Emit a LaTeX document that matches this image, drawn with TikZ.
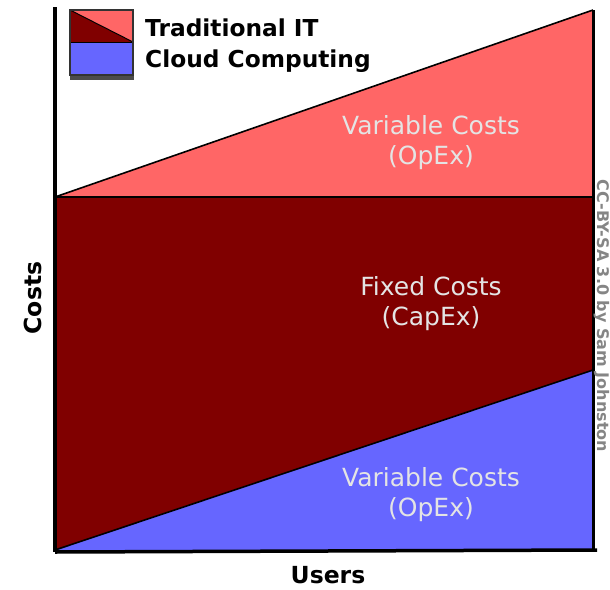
\documentclass[tikz,border=0pt]{standalone}
\usepackage{fontspec}
\setmainfont{DejaVu Sans}
\definecolor{lightred}{HTML}{FF6666}
\definecolor{darkred}{HTML}{800000}
\definecolor{cloudblue}{HTML}{6666FF}
\definecolor{labelgray}{HTML}{E4E4E4}
\definecolor{creditgray}{HTML}{858585}
\begin{document}
\begin{tikzpicture}[x=1pt,y=-1pt,
  edge/.style={black,line width=1.6pt},
  axisline/.style={black,line width=3.5pt},
  arealabel/.style={text=labelgray,font=\fontsize{25}{30}\selectfont,align=center,inner sep=0pt},
  axislabel/.style={font=\fontsize{23.5}{28}\selectfont\bfseries,inner sep=0pt},
  legendtext/.style={font=\fontsize{23.3}{28}\selectfont\bfseries,inner sep=0pt,anchor=base west}]
\useasboundingbox (0,0) rectangle (610,589);
% geometry
\coordinate (O) at (55,550);
\coordinate (BR) at (593,550);
\coordinate (FL) at (55,197);
\coordinate (FR) at (593,197);
\coordinate (TR) at (593,10);
\coordinate (BT) at (593,370);
\coordinate (YT) at (55,7);
\coordinate (YB) at (55,552);
\coordinate (XE) at (597,550);
% areas
\fill[darkred] (FL) -- (FR) -- (BR) -- (O) -- cycle;
\fill[cloudblue] (O) -- (BT) -- (BR) -- cycle;
\fill[lightred] (FL) -- (TR) -- (FR) -- cycle;
% edges
\draw[edge] (FL) -- (TR);
\draw[edge] (FL) -- (FR);
\draw[edge] (O) -- (BT);
\draw[black,line width=3pt] (TR) -- (BR);
\draw[axisline] (YT) -- (YB);
\draw[axisline] (YB) -- (XE);
% legend
\coordinate (LA) at (70,10);
\coordinate (LB) at (133,10);
\coordinate (LM) at (70,42);
\coordinate (LN) at (133,42);
\coordinate (LC) at (70,75);
\coordinate (LD) at (133,75);
\fill[black!70] (70,75) rectangle (134,80);
\fill[darkred] (LA) rectangle (LN);
\fill[lightred] (LA) -- (LB) -- (LN) -- cycle;
\fill[cloudblue] (LM) rectangle (LD);
\draw[black,line width=1pt] (LA) -- (LN);
\draw[black,line width=1pt] (LM) -- (LN);
\draw[black!80,line width=1.2pt] (LA) rectangle (LD);
\node[legendtext] (legIT) at (145,36) {Traditional IT};
\node[legendtext] (legCloud) at (145,67) {Cloud Computing};
% area labels
\node[arealabel] (varIT) at (431,143) {Variable Costs\\(OpEx)};
\node[arealabel] (fixed) at (431,304) {Fixed Costs\\(CapEx)};
\node[arealabel] (varCloud) at (431,495) {Variable Costs\\(OpEx)};
% axis labels
\node[axislabel,rotate=90] (costs) at (33,298) {Costs};
\node[axislabel] (users) at (328,575) {Users};
% credit
\node[text=creditgray,font=\fontsize{16}{19}\selectfont\bfseries,rotate=-90,inner sep=0pt] (credit) at (602,316) {CC-BY-SA 3.0 by Sam Johnston};
\end{tikzpicture}
\end{document}
